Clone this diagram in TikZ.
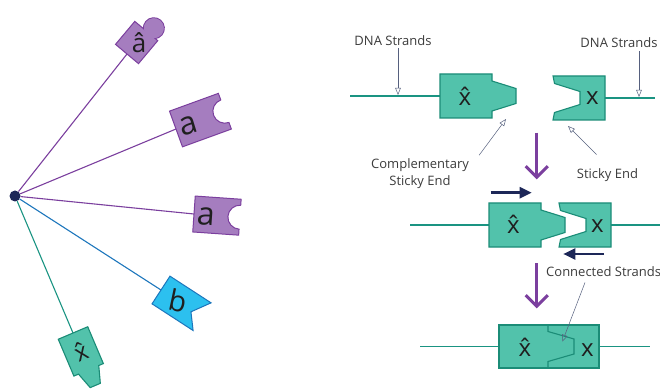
\documentclass[tikz,border=0pt]{standalone}
\usepackage{fontspec}
\setmainfont{Open Sans}
\usetikzlibrary{arrows.meta, positioning}

\definecolor{violetfill}{HTML}{A57DBF}
\definecolor{violetline}{HTML}{7B3F9E}
\definecolor{greenfill}{HTML}{52C2AB}
\definecolor{greenline}{HTML}{1B8C77}
\definecolor{skyfill}{HTML}{2CC0EF}
\definecolor{skyline}{HTML}{1D76BC}
\definecolor{hubnavy}{HTML}{1D2758}
\definecolor{strandteal}{HTML}{1A9482}
\definecolor{captiongray}{HTML}{3B3B3B}
\definecolor{pointergray}{HTML}{56607E}

\tikzset{
  violet piece/.style={fill=violetfill, draw=violetline, line width=1pt},
  green piece/.style={fill=greenfill, draw=greenline, line width=1.1pt},
  sky piece/.style={fill=skyfill, draw=skyline, line width=1pt},
  arm/.style={line width=1.1pt},
  strand/.style={draw=strandteal, line width=1.4pt},
  letter/.style={inner sep=0pt, text=black!88},
  xfont/.style={font=\fontsize{24}{24}\selectfont},
  caption/.style={inner sep=0pt, text=captiongray, align=center,
    font=\fontsize{13}{17}\selectfont},
  pointer/.style={draw=pointergray, line width=0.5pt,
    -{Triangle[open, length=7pt, width=5.5pt]}},
  drop/.style={draw=violetline, line width=3pt,
    -{Straight Barb[length=11pt, width=22pt]}},
  push/.style={draw=hubnavy, line width=2.4pt,
    -{Triangle[length=12pt, width=11pt]}},
}

% x with a circumflex set over it
\newcommand{\xhat}{\accent"02C6 x}

% x-hat piece with its tab and x piece with the matching notch,
% both drawn from the middle of their left side
\newcommand{\tabpiece}{\filldraw[green piece] (0,-22) -- (52,-22) -- (52,-15)
  -- (76,-7.5) -- (76,7.5) -- (52,15) -- (52,22) -- (0,22) -- cycle;}
\newcommand{\notchpiece}{\filldraw[green piece] (0,-22) -- (52,-22) -- (52,22)
  -- (0,22) -- (1.5,14.5) -- (27,6.5) -- (27,-6.5) -- (1.5,-14.5) -- cycle;}

\begin{document}
\begin{tikzpicture}[x=1pt, y=1pt]
\useasboundingbox (0,0) rectangle (660,391);

% hub and its five arms
\node[circle, fill=hubnavy, inner sep=0pt, minimum size=11pt] (hub) at (15,195) {};
\coordinate (ahat-in) at (127,337);
\coordinate (a1-in) at (176,262);
\coordinate (a2-in) at (194,177);
\coordinate (b-in) at (161,101);
\coordinate (xh-in) at (73,58);

\draw[arm, violetline] (hub) -- (ahat-in);
\draw[arm, violetline] (hub) -- (a1-in);
\draw[arm, violetline] (hub) -- (a2-in);
\draw[arm, skyline] (hub) -- (b-in);
\draw[arm, strandteal] (hub) -- (xh-in);

\begin{scope}[shift={(ahat-in)}, rotate=50]
  \filldraw[violet piece] (37,-4) circle[radius=10.5];
  \filldraw[violet piece] (0,-15) rectangle (30,15);
  \fill[violetfill] (37,-4) circle[radius=9.9];
  \node[letter, font=\fontsize{26}{26}\selectfont] (ahat) at (16.5,-2) {â};
\end{scope}

\begin{scope}[shift={(a1-in)}, rotate=20]
  \filldraw[violet piece] (0,-19) -- (52,-19) -- (52,-12)
    arc[start angle=-90, end angle=-270, radius=12] -- (52,19) -- (0,19) -- cycle;
  \node[letter, font=\fontsize{32}{32}\selectfont, rotate=17] (a1) at (13,-1) {a};
\end{scope}

\begin{scope}[shift={(a2-in)}, rotate=-4]
  \filldraw[violet piece] (0,-18) -- (46,-18) -- (46,-12)
    arc[start angle=-90, end angle=-270, radius=12] -- (46,18) -- (0,18) -- cycle;
  \node[letter, font=\fontsize{32}{32}\selectfont, rotate=-4] (a2) at (12,-2) {a};
\end{scope}

\begin{scope}[shift={(b-in)}, rotate=-33]
  \filldraw[sky piece] (0,-16.5) -- (49,-16.5) -- (37,-2) -- (49,16.5) -- (0,16.5) -- cycle;
  \node[letter, font=\fontsize{29}{29}\selectfont, rotate=-12] (b) at (20,0) {b};
\end{scope}

\begin{scope}[shift={(xh-in)}, rotate=-67]
  \filldraw[green piece] (0,-16) -- (40,-16) -- (40,-11) -- (57,-5.5) -- (57,5.5)
    -- (40,11) -- (40,16) -- (0,16) -- cycle;
  \node[letter, xfont, rotate=23] (xh) at (20,0) {\xhat};
\end{scope}

% top row: two strands with free sticky ends
\begin{scope}[shift={(440,295)}]
  \draw[strand] (-90,0) -- (0,0);
  \tabpiece
  \node[letter, xfont, anchor=base] (xh-top) at (25,-10) {\xhat};
  \coordinate (dna-l) at (-42,1);
  \coordinate (tab-top) at (66,-23);
\end{scope}
\begin{scope}[shift={(553,293)}]
  \draw[strand] (52,0) -- (102,0);
  \notchpiece
  \node[letter, xfont, anchor=base] (x-top) at (39.5,-7) {x};
  \coordinate (dna-r) at (86,1);
  \coordinate (notch-top) at (15,-28);
\end{scope}

\node[caption] (dna-l-label) at (393,350) {DNA Strands};
\node[caption] (dna-r-label) at (619,348) {DNA Strands};
\node[caption] (comp-label) at (420,217.5) {Complementary\\Sticky End};
\node[caption] (sticky-label) at (607.5,215.7) {Sticky End};

\draw[pointer] ([shift={(5,-2)}]dna-l-label.south) -- (dna-l);
\draw[pointer] ([shift={(20,-3)}]dna-r-label.south) -- (dna-r);
\draw[pointer] ([shift={(10,3)}]comp-label.north east) -- (tab-top);
\draw[pointer] ([shift={(-11,14)}]sticky-label.north) -- (notch-top);

% middle row: pushed towards each other
\coordinate (drop-a) at (536.7,258.3);
\coordinate (drop-a-end) at (536.7,211.7);
\draw[drop] (drop-a) -- (drop-a-end);

\coordinate (push-r) at (490.7,198.3);
\coordinate (push-r-end) at (531.7,198.3);
\draw[push] (push-r) -- (push-r-end);

\begin{scope}[shift={(489,166)}]
  \draw[strand] (-79,0) -- (0,0);
  \tabpiece
  \node[letter, xfont, anchor=base] (xh-mid) at (24.5,-8.5) {\xhat};
\end{scope}
\begin{scope}[shift={(559,166)}]
  \draw[strand] (52,0) -- (101,0);
  \notchpiece
  \node[letter, xfont, anchor=base] (x-mid) at (38.5,-7) {x};
\end{scope}

\coordinate (push-l) at (604,137);
\coordinate (push-l-end) at (563.3,137);
\draw[push] (push-l) -- (push-l-end);

\node[caption, anchor=west] (conn-label) at (546,119.7) {Connected Strands};

\coordinate (drop-b) at (536.7,127.7);
\coordinate (drop-b-end) at (536.7,82.7);
\draw[drop] (drop-b) -- (drop-b-end);

% bottom row: the joined strand
\begin{scope}[shift={(499,44.5)}]
  \draw[strand] (-79,0) -- (0,0);
  \draw[strand] (100,0) -- (151,0);
  \filldraw[green piece] (0,-21.5) rectangle (100,21.5);
  \draw[green piece, fill=none] (49,21.5) -- (49,15) -- (75,7.5) -- (75,-7.5)
    -- (49,-15) -- (49,-21.5);
  \node[letter, xfont, anchor=base] (xh-bot) at (26,-10) {\xhat};
  \node[letter, xfont, anchor=base] (x-bot) at (88.5,-10) {x};
  \coordinate (seam) at (63.3,4.8);
\end{scope}

\draw[pointer] ([shift={(39,-6)}]conn-label.south west) -- (seam);
\end{tikzpicture}
\end{document}
